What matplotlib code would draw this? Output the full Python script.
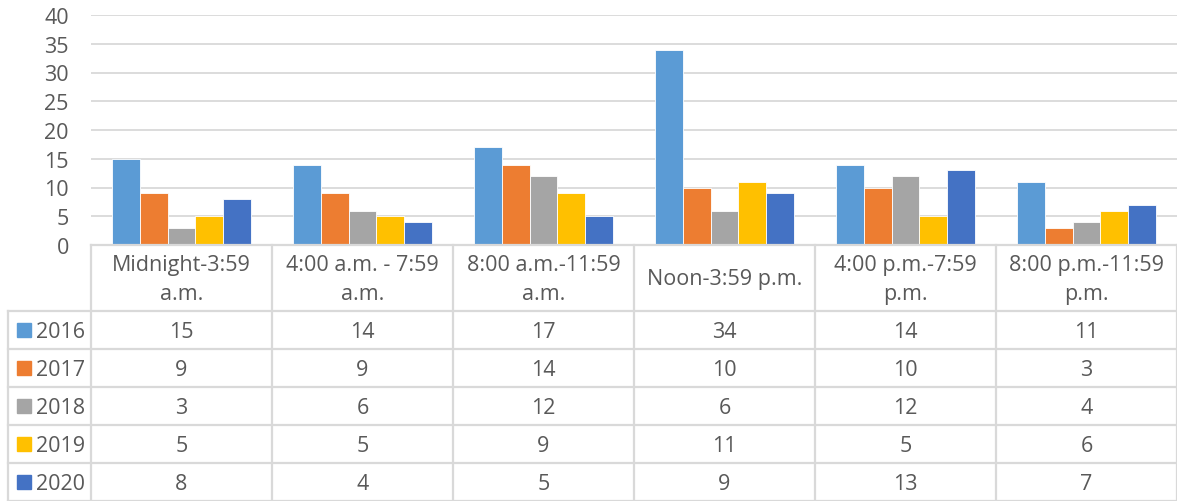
import numpy as np
import matplotlib.pyplot as plt

# data
categories = ['Midnight-3:59\na.m.', '4:00 a.m. - 7:59\na.m.', '8:00 a.m.-11:59\na.m.',
              'Noon-3:59 p.m.', '4:00 p.m.-7:59\np.m.', '8:00 p.m.-11:59\np.m.']
years = ['2016', '2017', '2018', '2019', '2020']
v2016 = [15, 14, 17, 34, 14, 11]
v2017 = [9, 9, 14, 10, 10, 3]
v2018 = [3, 6, 12, 6, 12, 4]
v2019 = [5, 5, 9, 11, 5, 6]
v2020 = [8, 4, 5, 9, 13, 7]
series = [v2016, v2017, v2018, v2019, v2020]
colors = ['#5B9BD5', '#ED7D31', '#A5A5A5', '#FFC000', '#4472C4']
yticks = [0, 5, 10, 15, 20, 25, 30, 35, 40]

plt.rcParams['font.family'] = ['Open Sans', 'DejaVu Sans']
txt = '#595959'
grid = '#D9D9D9'
fs = 15.5
W, H = 1177, 502

fig = plt.figure(figsize=(W / 100, H / 100), dpi=100)

# chart area (pixel geometry)
x0, x1 = 91, 1177
ytop, ybase = 16, 246
ax = fig.add_axes([x0 / W, 1 - ybase / H, (x1 - x0) / W, (ybase - ytop) / H])
n = len(categories)
x = np.arange(n)
bw = 0.154
for i, (vals, c) in enumerate(zip(series, colors)):
    ax.bar(x + (i - 2) * bw, vals, bw, color=c, edgecolor='white', linewidth=0.6, zorder=3)
ax.set_xlim(-0.5, n - 0.5)
ax.set_ylim(0, 40)
ax.set_yticks(yticks)
ax.set_yticklabels([str(t) for t in yticks], fontsize=fs, color=txt)
ax.tick_params(axis='y', length=0, pad=16)
ax.set_xticks([])
for s in ax.spines.values():
    s.set_visible(False)
ax.yaxis.grid(True, color=grid, linewidth=1.3, zorder=0)

# data table below
cw = (x1 - x0) / n            # pixels per category
tl = 8                        # table left edge in pixels
hdr = 66                      # header height
rh = 38                       # row height
tax = fig.add_axes([tl / W, 0, (W - tl) / W, (H - ybase) / H])
left_units = -0.5 - (x0 - tl) / cw
tax.set_xlim(left_units, n - 0.5)
tax.set_ylim(H - ybase, 0)
tax.axis('off')

lw = 1.6
ybot = hdr + rh * len(years)
# horizontal lines
tax.plot([-0.5, n - 0.5], [0, 0], color=grid, lw=lw, clip_on=False)
for r in range(len(years) + 1):
    yy = hdr + r * rh
    tax.plot([left_units, n - 0.5], [yy, yy], color=grid, lw=lw, clip_on=False)
# vertical lines
tax.plot([left_units, left_units], [hdr, ybot], color=grid, lw=lw, clip_on=False)
for k in range(n + 1):
    tax.plot([k - 0.5, k - 0.5], [0, ybot], color=grid, lw=lw, clip_on=False)

for k, lab in enumerate(categories):
    tax.text(k, hdr / 2 + 1, lab, ha='center', va='center', fontsize=fs, color=txt, linespacing=1.45)

sq = 14 / cw
for r, (yr, vals, c) in enumerate(zip(years, series, colors)):
    yc = hdr + r * rh + rh / 2
    tax.add_patch(plt.Rectangle((left_units + 9 / cw, yc - 7), sq, 14, color=c, clip_on=False))
    tax.text(left_units + 28 / cw, yc + 2, yr, ha='left', va='center', fontsize=fs, color=txt)
    for k, v in enumerate(vals):
        tax.text(k, yc + 2, str(v), ha='center', va='center', fontsize=fs, color=txt)

fig.savefig('out.png', dpi=100)
